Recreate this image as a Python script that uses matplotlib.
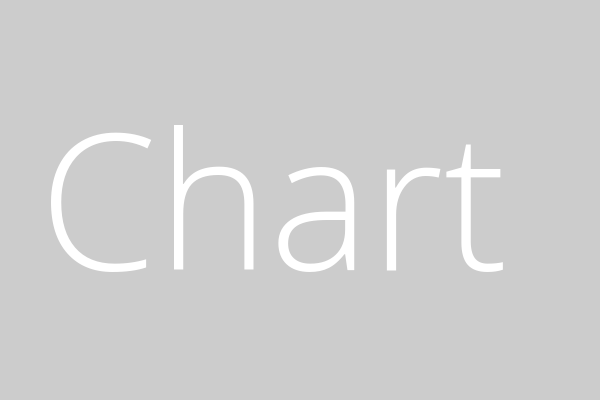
import matplotlib
matplotlib.use("Agg")
import matplotlib.pyplot as plt

# placeholder label
label = "Chart"
bg_color = "#cccccc"

fig = plt.figure(figsize=(6, 4), dpi=100)
fig.patch.set_facecolor(bg_color)

# baseline at ~270px from top -> 130px from bottom, centred near x=280px
fig.text(0.456, 130 / 400, label, color="white", fontsize=137,
         family=["Open Sans", "DejaVu Sans"], weight="light",
         ha="center", va="baseline")

fig.savefig("out.png", dpi=100, facecolor=bg_color)
